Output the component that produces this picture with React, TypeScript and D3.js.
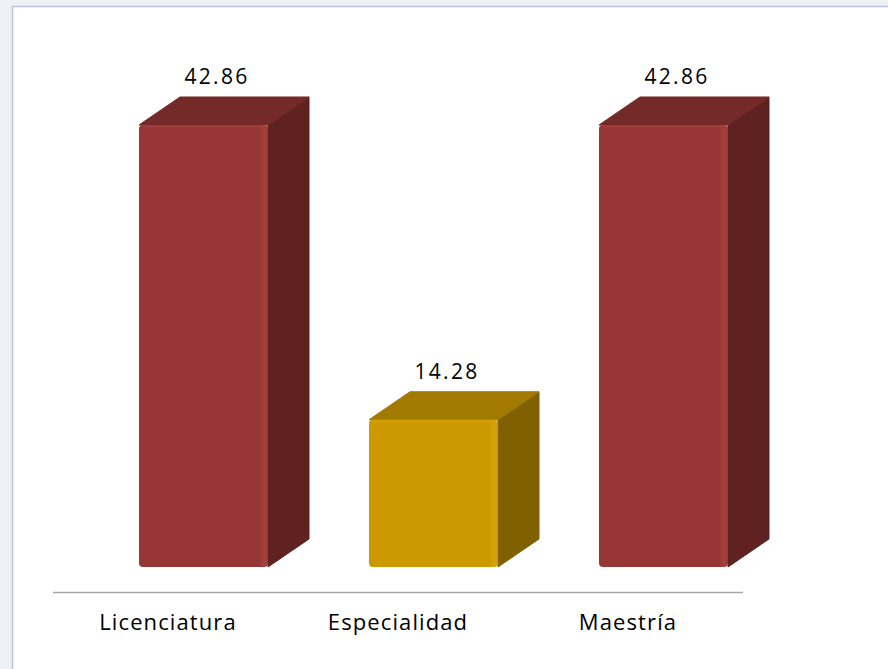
import React from "react";
import * as d3 from "d3";

const categories = ["Licenciatura", "Especialidad", "Maestría"];
const values = [42.86, 14.28, 42.86];
const labels = ["42.86", "14.28", "42.86"];
const palette = ["red", "gold", "red"];

const W = 888;
const H = 669;

const colors: Record<string, { front: string; top: string; side: string; edge: string }> = {
  red: { front: "#963735", top: "#732a28", side: "#5f2221", edge: "#a8403e" },
  gold: { front: "#cc9900", top: "#a37a00", side: "#806000", edge: "#d8a408" },
};

export default function App() {
  const x = d3.scaleBand<string>().domain(categories).range([53, 743]).padding(0);
  const y = d3.scaleLinear().domain([0, 50]).range([567, 567 - 50 * 10.313]);
  const frontW = 129;
  const dx = 41;
  const dy = 28;
  const font = "'Open Sans', sans-serif";

  return (
    <svg width={W} height={H} style={{ position: "absolute", left: 0, top: 0, display: "block" }}>
      <defs>
        {Object.entries(colors).map(([k, c]) => (
          <linearGradient key={k} id={`fg-${k}`} x1="0" x2="1" y1="0" y2="0">
            <stop offset="0" stopColor={c.front} />
            <stop offset="0.93" stopColor={c.front} />
            <stop offset="0.975" stopColor={c.edge} />
            <stop offset="1" stopColor={c.front} />
          </linearGradient>
        ))}
      </defs>
      <rect x={0} y={0} width={W} height={H} fill="#edf1f6" />
      <rect x={12.5} y={6.5} width={W} height={H} fill="#ffffff" stroke="#bfc3dc" strokeWidth={1.5} />
      <line x1={53} x2={743} y1={592.5} y2={592.5} stroke="#a6a6a6" strokeWidth={1.5} />
      {categories.map((cat, i) => {
        const c = colors[palette[i]];
        const bc = (x(cat) as number) + x.bandwidth() / 2;
        const x0 = bc - 29;
        const x1 = x0 + frontW;
        const yT = y(values[i]);
        const yB = y(0);
        const top = `M${x0},${yT} L${x0 + dx},${yT - dy} L${x1 + dx},${yT - dy} L${x1},${yT} Z`;
        const side = `M${x1},${yT} L${x1 + dx},${yT - dy} L${x1 + dx},${yB - dy} L${x1},${yB} Z`;
        return (
          <g key={cat}>
            <path d={side} fill={c.side} stroke={c.side} strokeWidth={1} strokeLinejoin="round" />
            <path d={top} fill={c.top} stroke={c.top} strokeWidth={1} strokeLinejoin="round" />
            <rect x={x0} y={yT} width={frontW} height={yB - yT} rx={4} fill={`url(#fg-${palette[i]})`} />
            <line x1={x0 + 4} x2={x1 - 4} y1={yT + 1.5} y2={yT + 1.5} stroke={c.edge} strokeWidth={2} opacity={0.6} />
            <text
              x={bc + 49}
              y={yT - 41}
              textAnchor="middle"
              fontFamily={font}
              fontSize={21}
              letterSpacing={2.3}
              fill="#000"
            >
              {labels[i]}
            </text>
            <text
              x={bc}
              y={630}
              textAnchor="middle"
              fontFamily={font}
              fontSize={22}
              letterSpacing={1.1}
              fill="#000"
            >
              {cat}
            </text>
          </g>
        );
      })}
    </svg>
  );
}
